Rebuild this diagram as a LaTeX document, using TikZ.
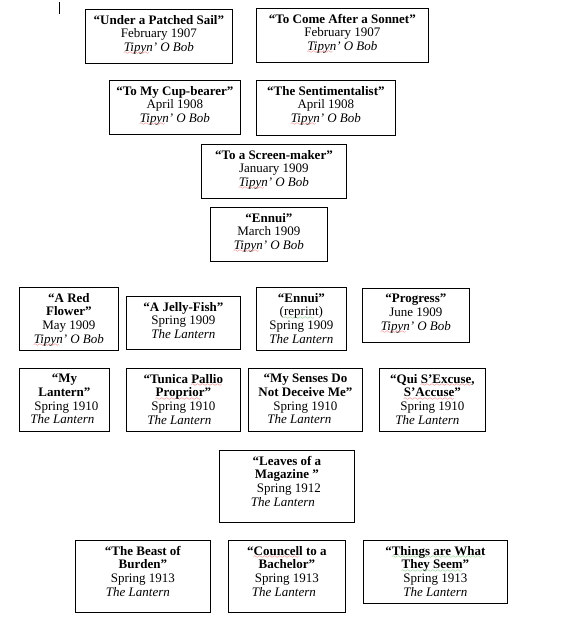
\documentclass[tikz,border=0pt]{standalone}
\usepackage{fontspec}
\setmainfont{Liberation Serif}
\definecolor{sqred}{RGB}{225,30,30}
\definecolor{sqgreen}{RGB}{40,165,40}
\font\sqwave=lasy6
\newcommand\sqline[2]{{\setbox0\hbox{#2}%
  \rlap{\textcolor{#1}{\lower3.2pt\hbox to\wd0{\leaders\hbox{\sqwave\char58}\hfill}}}\box0}}
\newcommand\redsq[1]{\sqline{sqred}{#1}}
\newcommand\grnsq[1]{\sqline{sqgreen}{#1}}
\newcommand\shl[2]{\hbox{\kern-#1pt #2\kern#1pt}}
\newcommand\tob{\textit{\redsq{Tipyn}’ O Bob}}
\newcommand\lant[1]{\shl{#1}{\textit{The Lantern}}}
\tikzset{
  pbox/.style={draw, line width=0.8pt, inner sep=0pt, anchor=north west},
  ptext/.style={anchor=north, align=center, inner sep=0pt,
    font=\fontsize{13}{13.6}\selectfont, yshift=-6pt}
}
\newcommand\pbox[6]{%
  \node[pbox, minimum width={#4-#2}, minimum height={#5-#3}] (#1) at (#2,#3) {};
  \node[ptext] (#1t) at (#1.north) {#6};
}
\begin{document}
\begin{tikzpicture}[x=1pt,y=-1pt]
\useasboundingbox (0,0) rectangle (576,624);
\draw[line width=0.8pt] (59,2) -- (59,14);
% row 1
\pbox{b1}{85}{9}{232}{63}{\textbf{“Under a Patched Sail”}\\February 1907\\\tob}
\pbox{b2}{256}{8}{428}{62}{\textbf{“To Come After a Sonnet”}\\February 1907\\\tob}
% row 2
\pbox{b3}{109}{80}{240}{134}{\textbf{“To My Cup-bearer”}\\April 1908\\\tob}
\pbox{b4}{256}{80}{395}{135}{\textbf{“The Sentimentalist”}\\April 1908\\\tob}
% row 3, 4
\pbox{b5}{201}{144}{346}{198}{\textbf{“To a Screen-maker”}\\January 1909\\\tob}
\pbox{b6}{210}{207}{327}{261}{\textbf{“Ennui”}\\March 1909\\\tob}
% row A
\pbox{a1}{19}{287}{118}{350}{\textbf{“A Red}\\\textbf{Flower”}\\May 1909\\\tob}
\pbox{a2}{126}{296}{240}{349}{\textbf{“A Jelly-Fish”}\\Spring 1909\\\textit{The Lantern}}
\pbox{a3}{256}{287}{346}{350}{\textbf{“Ennui”}\\(\grnsq{reprint})\\Spring 1909\\\textit{The Lantern}}
\pbox{a4}{362}{288}{469}{342}{\textbf{“Progress”}\\June 1909\\\tob}
% row B
\pbox{c1}{19}{368}{109}{431}{\textbf{“My}\\\textbf{Lantern”}\\\shl{-2}{Spring 1910}\\\lant{2}}
\pbox{c2}{126}{368}{240}{431}{\textbf{“Tunica \redsq{Pallio}}\\\textbf{\redsq{Proprior}”}\\Spring 1910\\\lant{4}}
\pbox{c3}{248}{368}{362}{431}{\textbf{“My Senses Do}\\\textbf{Not Deceive Me”}\\Spring 1910\\\lant{6}}
\pbox{c4}{379}{368}{485}{431}{\textbf{“Qui \redsq{S’Excuse,}}\\\textbf{\redsq{S’Accuse}”}\\Spring 1910\\\lant{5}}
% row C
\pbox{m}{219}{450}{354}{522}{\textbf{“Leaves of a}\\\textbf{Magazine ”}\\\shl{-2}{Spring 1912}\\\lant{4}}
% row D
\pbox{d1}{75}{540}{210}{612}{\textbf{“The Beast of}\\\textbf{Burden”}\\Spring 1913\\\lant{5}}
\pbox{d2}{228}{540}{345}{612}{\textbf{“\redsq{Councell} to a}\\\textbf{Bachelor”}\\Spring 1913\\\lant{3}}
\pbox{d3}{363}{540}{507}{603}{\textbf{“\grnsq{Things are What}}\\\textbf{\grnsq{They Seem}”}\\Spring 1913\\\textit{The Lantern}}
\end{tikzpicture}
\end{document}
